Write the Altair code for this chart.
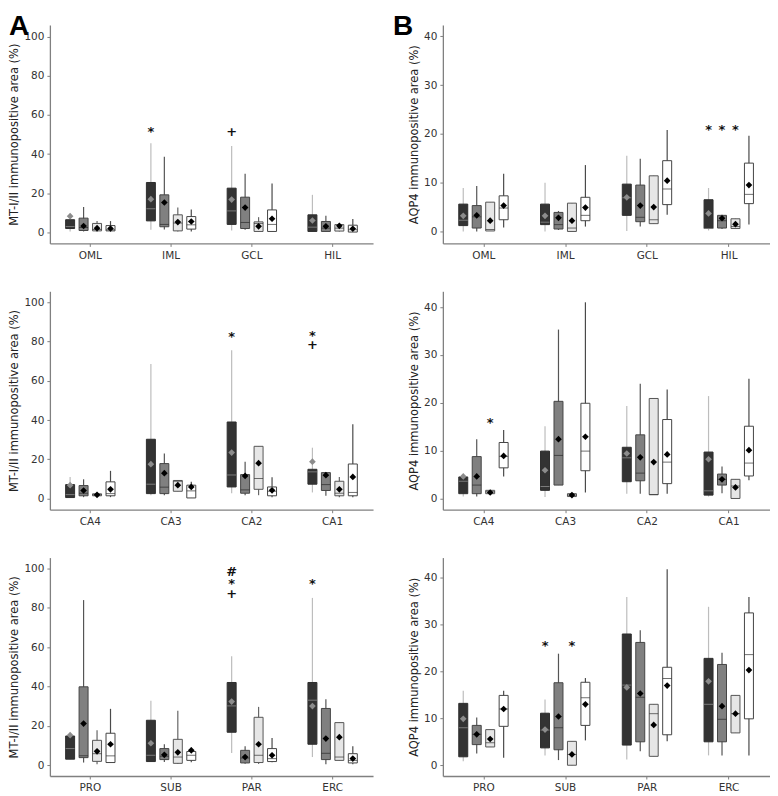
import altair as alt
import pandas as pd

# ---------------- data ----------------
groups = ["G1", "G2", "G3", "G4"]

regions_r1 = ["OML", "IML", "GCL", "HIL"]
regions_r2 = ["CA4", "CA3", "CA2", "CA1"]
regions_r3 = ["PRO", "SUB", "PAR", "ERC"]

# each box: [whisker low, Q1, median, Q3, whisker high, mean]
mt_r1 = [
    [[0.5, 2.0, 3.0, 6.5, 8.5, 8.3], [0.5, 1.0, 2.5, 7.3, 13.0, 3.3], [0.5, 0.8, 1.5, 4.6, 5.9, 2.2], [0.5, 0.8, 1.4, 3.5, 5.8, 2.0]],
    [[1.4, 5.9, 12.1, 25.5, 45.5, 17.0], [1.5, 2.9, 4.1, 19.2, 38.7, 15.3], [0.5, 0.8, 4.8, 9.0, 12.7, 5.3], [0.5, 1.7, 3.9, 8.1, 11.7, 5.6]],
    [[1.0, 4.1, 11.0, 22.6, 44.1, 16.8], [1.4, 2.0, 5.1, 18.0, 29.9, 12.7], [0.5, 0.5, 4.6, 5.4, 7.8, 3.1], [0.5, 0.5, 4.1, 11.5, 25.0, 7.0]],
    [[0.5, 0.5, 2.7, 9.0, 19.2, 6.1], [0.5, 0.5, 2.2, 5.6, 8.5, 3.1], [0.5, 0.7, 2.2, 4.0, 4.4, 3.4], [0.2, 0.2, 1.4, 3.7, 6.8, 1.9]],
]
aqp_r1 = [
    [[0.0, 1.2, 2.3, 5.6, 8.9, 3.2], [0.0, 0.7, 3.0, 5.3, 9.3, 3.3], [0.1, 0.1, 0.4, 6.0, 6.0, 2.2], [0.8, 2.4, 4.8, 7.3, 11.8, 5.3]],
    [[0.0, 1.4, 1.9, 5.6, 10.0, 3.2], [0.3, 0.5, 1.4, 3.9, 4.2, 2.8], [0.0, 0.0, 0.7, 5.8, 5.8, 2.2], [1.0, 2.2, 3.3, 7.0, 13.6, 4.9]],
    [[0.1, 3.3, 6.9, 9.7, 15.5, 7.0], [1.0, 2.0, 2.9, 9.5, 14.9, 5.3], [1.6, 1.6, 2.4, 11.4, 11.4, 5.0], [3.4, 5.5, 8.7, 14.5, 20.8, 10.4]],
    [[0.2, 0.6, 0.6, 6.5, 8.9, 3.7], [0.5, 0.7, 2.2, 3.3, 3.4, 2.7], [0.6, 0.6, 1.0, 2.6, 2.6, 1.5], [1.4, 5.7, 7.6, 14.0, 19.6, 9.5]],
]
mt_r2 = [
    [[0.5, 0.5, 2.0, 7.1, 11.0, 6.8], [0.7, 1.4, 2.7, 6.6, 9.8, 4.1], [1.0, 1.4, 1.9, 2.4, 2.4, 1.9], [0.7, 1.4, 2.5, 8.5, 14.1, 4.7]],
    [[1.7, 2.5, 7.3, 30.2, 68.6, 17.5], [1.7, 2.5, 5.8, 17.8, 22.9, 12.9], [3.7, 3.7, 8.8, 9.2, 9.2, 6.8], [0.3, 0.3, 3.9, 6.8, 8.6, 5.9]],
    [[2.7, 5.9, 12.0, 39.0, 75.6, 23.4], [1.7, 2.7, 4.4, 12.2, 18.8, 11.5], [1.7, 4.7, 10.2, 26.6, 26.6, 18.0], [0.7, 1.4, 3.7, 5.9, 10.8, 4.2]],
    [[3.1, 7.3, 13.6, 14.9, 25.9, 18.8], [1.4, 4.1, 7.1, 13.2, 13.2, 11.9], [0.7, 1.4, 2.7, 8.8, 11.0, 4.7], [0.7, 1.4, 3.1, 17.6, 37.8, 11.0]],
]
aqp_r2 = [
    [[0.4, 1.0, 3.6, 4.5, 4.6, 4.6], [0.4, 1.0, 2.8, 8.75, 12.4, 4.6], [1.0, 1.0, 1.4, 1.7, 1.7, 1.25], [4.6, 6.4, 8.8, 11.7, 14.3, 8.9]],
    [[0.3, 1.7, 2.5, 9.9, 15.1, 5.9], [2.8, 2.8, 9.0, 20.3, 35.3, 12.4], [0.4, 0.4, 0.7, 1.0, 1.0, 0.7], [1.25, 5.8, 9.9, 19.9, 41.0, 12.9]],
    [[1.0, 3.5, 8.5, 10.7, 19.3, 9.4], [1.0, 3.7, 5.3, 13.3, 24.0, 8.6], [0.8, 0.8, 0.8, 20.9, 20.9, 7.6], [1.0, 3.1, 7.6, 16.5, 22.8, 9.2]],
    [[0.4, 0.7, 1.6, 9.7, 21.4, 8.2], [1.1, 2.8, 4.0, 5.1, 6.7, 4.0], [0.0, 0.0, 2.6, 4.0, 4.0, 2.3], [3.8, 4.7, 7.4, 15.1, 25.0, 10.1]],
]
mt_r3 = [
    [[3.1, 3.1, 8.5, 14.9, 15.3, 15.3], [1.4, 3.9, 4.9, 39.9, 84.0, 21.2], [0.5, 2.0, 5.9, 12.7, 17.8, 7.1], [1.4, 1.4, 4.8, 16.3, 28.7, 10.7]],
    [[1.9, 1.9, 5.1, 22.9, 32.8, 11.2], [1.7, 2.9, 4.6, 8.5, 10.7, 5.3], [0.7, 1.0, 4.2, 13.2, 27.7, 6.6], [1.5, 2.5, 5.1, 7.0, 9.0, 7.6]],
    [[6.3, 16.8, 30.2, 42.1, 55.5, 32.4], [0.8, 1.2, 3.7, 7.6, 9.7, 4.2], [0.7, 1.4, 5.1, 24.4, 29.7, 10.7], [1.5, 1.9, 3.4, 8.5, 13.9, 5.1]],
    [[4.2, 10.7, 33.1, 42.1, 85.1, 30.1], [0.5, 2.9, 6.1, 28.9, 33.6, 13.6], [2.5, 2.5, 4.2, 21.7, 21.7, 14.3], [0.5, 1.2, 2.5, 5.9, 9.7, 3.4]],
]
aqp_r3 = [
    [[0.85, 1.8, 8.0, 13.2, 15.9, 9.9], [2.5, 4.4, 6.6, 8.5, 10.2, 6.6], [3.9, 3.9, 4.8, 7.6, 7.6, 5.6], [1.6, 8.3, 12.0, 14.9, 15.9, 12.0]],
    [[2.1, 3.7, 7.5, 11.1, 14.0, 7.6], [1.1, 3.3, 8.0, 17.6, 23.8, 10.4], [0.0, 0.0, 2.3, 5.1, 5.1, 2.3], [5.3, 8.5, 14.4, 17.7, 18.6, 13.0]],
    [[1.2, 4.3, 17.1, 28.0, 35.9, 16.6], [3.0, 5.0, 14.5, 26.2, 28.8, 15.3], [1.9, 1.9, 11.0, 13.0, 13.0, 8.6], [5.1, 6.5, 18.5, 20.9, 41.8, 17.0]],
    [[2.1, 5.0, 13.0, 22.8, 33.8, 17.9], [2.1, 5.0, 9.8, 21.5, 24.0, 12.6], [6.9, 6.9, 11.0, 14.9, 14.9, 11.0], [2.1, 9.9, 23.6, 32.5, 35.9, 20.3]],
]

# significance markers: (region, group, y, symbol)
mt_r1_sig = [("IML", "G1", 52.6, "*"), ("GCL", "G1", 52.6, "+")]
aqp_r1_sig = [("HIL", "G1", 21.3, "*"), ("HIL", "G2", 21.3, "*"), ("HIL", "G3", 21.3, "*")]
mt_r2_sig = [("CA2", "G1", 84.0, "*"), ("CA1", "G1", 84.5, "*"), ("CA1", "G1", 79.5, "+")]
aqp_r2_sig = [("CA4", "G3", 16.5, "*")]
mt_r3_sig = [("PAR", "G1", 99.8, "#"), ("PAR", "G1", 93.9, "*"), ("PAR", "G1", 88.8, "+"), ("ERC", "G1", 93.9, "*")]
aqp_r3_sig = [("SUB", "G1", 26.0, "*"), ("SUB", "G3", 26.0, "*")]

mt_title = "MT-I/II immunopositive area (%)"
aqp_title = "AQP4 immunopositive area (%)"
mt_ticks = [0, 20, 40, 60, 80, 100]
aqp_ticks = [0, 10, 20, 30, 40]

# ---------------- styles ----------------
box_fill = ["#333333", "#808080", "#e6e6e6", "#ffffff"]
box_stroke = ["#2e2e2e", "#444444", "#555555", "#444444"]
whisker_col = ["#bdbdbd", "#555555", "#666666", "#4a4a4a"]
median_col = ["#9a9a9a", "#2a2a2a", "#333333", "#333333"]
mean_col = ["#8c8c8c", "#000000", "#000000", "#000000"]
FONT = "DejaVu Sans"


def panel(regions, stats, sig, ytitle, ydom, yticks, width, height=219, letter=None, lx=0):
    rows = []
    for r, per in zip(regions, stats):
        for g, s in zip(groups, per):
            rows.append(dict(region=r, group=g, lo=s[0], q1=s[1], med=s[2],
                             q3=s[3], hi=s[4], mean=s[5]))
    df = pd.DataFrame(rows)
    sdf = pd.DataFrame(sig, columns=["region", "group", "y", "sym"])

    xaxis = alt.Axis(title=None, labelAngle=0, labelPadding=4)
    x = alt.X("region:N", sort=regions, axis=xaxis,
              scale=alt.Scale(paddingInner=0.333, paddingOuter=0.167))
    xo = alt.XOffset("group:N", sort=groups,
                     scale=alt.Scale(paddingInner=0.333, paddingOuter=0.167))
    yscale = alt.Scale(domain=ydom, nice=False, zero=False)
    yaxis = alt.Axis(title=ytitle, values=yticks, titlePadding=4)

    def Y(f):
        return alt.Y(f, scale=yscale, axis=yaxis)

    def sc(rng):
        return alt.Scale(domain=groups, range=rng)

    base = alt.Chart(df)
    whisk = base.mark_rule(strokeWidth=1.2).encode(
        x=x, xOffset=xo, y=Y("lo:Q"), y2="hi:Q",
        stroke=alt.Stroke("group:N", scale=sc(whisker_col), legend=None))
    box = base.mark_bar(strokeWidth=1).encode(
        x=x, xOffset=xo, y=Y("q3:Q"), y2="q1:Q",
        fill=alt.Fill("group:N", scale=sc(box_fill), legend=None),
        stroke=alt.Stroke("group:N", scale=sc(box_stroke), legend=None))
    med = base.mark_tick(size=9, thickness=1).encode(
        x=x, xOffset=xo, y=Y("med:Q"),
        color=alt.Color("group:N", scale=sc(median_col), legend=None))
    mean = base.mark_point(shape="diamond", filled=True, size=45, opacity=1).encode(
        x=x, xOffset=xo, y=Y("mean:Q"),
        fill=alt.Fill("group:N", scale=sc(mean_col), legend=None))
    sigm = alt.Chart(sdf).mark_text(font=FONT, fontSize=13, fontWeight="bold",
                                    color="#111111", baseline="middle", dy=3).encode(
        x=x, xOffset=xo, y=Y("y:Q"), text="sym:N")
    layers = [whisk, box, med, mean, sigm]
    if letter:
        ldf = pd.DataFrame({"t": [letter]})
        lt = alt.Chart(ldf).mark_text(font="Liberation Sans", fontSize=28, fontWeight="bold",
                                      align="left", baseline="top", color="#000000").encode(
            x=alt.value(lx), y=alt.value(-12), text="t:N")
        layers.append(lt)
    return alt.layer(*layers).resolve_scale(
        fill="independent", stroke="independent", color="independent"
    ).properties(width=width, height=height)


pA1 = panel(regions_r1, mt_r1, mt_r1_sig, mt_title, [-5.6, 105.9], mt_ticks, 324, letter="A", lx=-41)
pB1 = panel(regions_r1, aqp_r1, aqp_r1_sig, aqp_title, [-2.45, 42.3], aqp_ticks, 328, letter="B", lx=-50)
pA2 = panel(regions_r2, mt_r2, mt_r2_sig, mt_title, [-5.7, 105.6], mt_ticks, 324)
pB2 = panel(regions_r2, aqp_r2, aqp_r2_sig, aqp_title, [-2.35, 43.3], aqp_ticks, 328)
pA3 = panel(regions_r3, mt_r3, mt_r3_sig, mt_title, [-5.45, 105.6], mt_ticks, 324)
pB3 = panel(regions_r3, aqp_r3, aqp_r3_sig, aqp_title, [-2.3, 44.3], aqp_ticks, 328)

chart = alt.concat(
    pA1, pB1, pA2, pB2, pA3, pB3, columns=2,
    spacing={"row": 48, "column": 70}, bounds="flush"
).resolve_scale(
    fill="independent", stroke="independent", color="independent"
).properties(
    padding={"top": 4, "left": 0, "right": 0, "bottom": 0}
).configure_view(stroke=None).configure_axis(
    labelFont=FONT, labelFontSize=10.5, labelColor="#333333",
    titleFont=FONT, titleFontSize=11.5, titleFontWeight="normal", titleColor="#222222",
    domainColor="#808080", domainWidth=1.3, tickColor="#808080", tickSize=3,
    grid=False, labelPadding=3
)

chart.save("out.html", embed_options={"renderer": "svg", "actions": False})
